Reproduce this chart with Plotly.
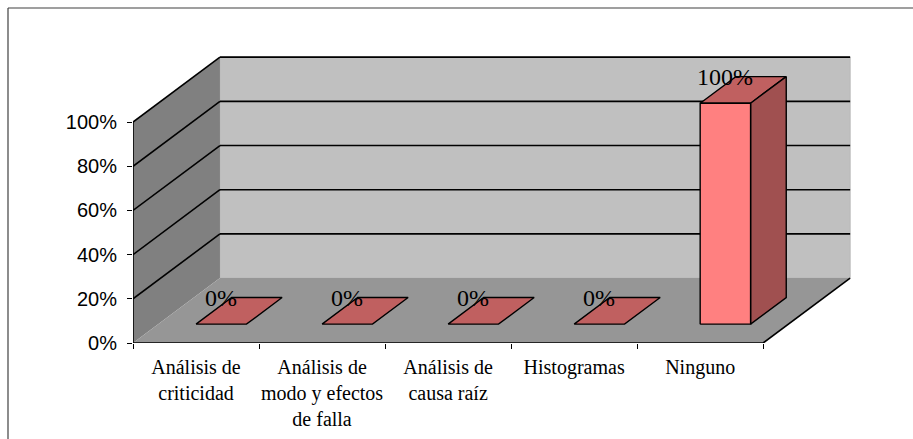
import plotly.graph_objects as go

# ---- data ----
categories = ["Análisis de<br>criticidad", "Análisis de<br>modo y efectos<br>de falla",
              "Análisis de<br>causa raíz", "Histogramas", "Ninguno"]
values = [0, 0, 0, 0, 100]
y_ticks = [0, 20, 40, 60, 80, 100]
y_tick_labels = ["0%", "20%", "40%", "60%", "80%", "100%"]

# ---- pseudo-3D geometry (axis units) ----
W, H = 913, 439
L, R, T, B = 133, 49, 47, 96
DX, DY = 0.69, 29.4          # full depth offset (category units, percent units)
F0, F1 = 0.29, 0.70          # bar front/back depth fractions
HW = 0.2                     # bar half width
n = len(categories)
x0, x1 = -0.5, n - 0.5
ymax = y_ticks[-1]

SERIF = "Liberation Serif, Times New Roman, serif"
SANS = "Liberation Sans, Arial, sans-serif"

WALL_BACK = "#C0C0C0"
WALL_SIDE = "#808080"
FLOOR = "#969696"
BAR_FRONT = "#FF8080"
BAR_TOP = "#C06060"
BAR_SIDE = "#A05050"

fig = go.Figure()
shapes = []

def poly(pts, fill, line_color=None, width=0, layer="below"):
    d = "M " + " L ".join(f"{x},{y}" for x, y in pts) + " Z"
    return dict(type="path", path=d, xref="x", yref="y", fillcolor=fill,
                line=dict(color=line_color or fill, width=width), layer=layer)

def seg(xa, ya, xb, yb, color="black", width=1.6, layer="below"):
    return dict(type="line", xref="x", yref="y", x0=xa, y0=ya, x1=xb, y1=yb,
                line=dict(color=color, width=width), layer=layer)

# back wall
shapes.append(poly([(x0 + DX, DY), (x1 + DX, DY), (x1 + DX, ymax + DY), (x0 + DX, ymax + DY)],
                   WALL_BACK, "#B8B8B8", 1))
# side wall
shapes.append(poly([(x0, 0), (x0 + DX, DY), (x0 + DX, ymax + DY), (x0, ymax)], WALL_SIDE))
# floor
shapes.append(poly([(x0, 0), (x1, 0), (x1 + DX, DY), (x0 + DX, DY)], FLOOR))
# floor right edge
shapes.append(seg(x1, 0, x1 + DX, DY))
# gridlines on walls
for g in y_ticks[1:]:
    shapes.append(seg(x0, g, x0 + DX, g + DY))
    shapes.append(seg(x0 + DX, g + DY, x1 + DX, g + DY))
# axis lines
shapes.append(seg(x0, 0, x0, ymax, width=1.6))
shapes.append(seg(x0, 0, x1, 0, width=1.6))

# bars (faces as filled traces)
def face(pts, color):
    xs = [p[0] for p in pts] + [pts[0][0]]
    ys = [p[1] for p in pts] + [pts[0][1]]
    fig.add_trace(go.Scatter(x=xs, y=ys, mode="lines", fill="toself", fillcolor=color,
                             line=dict(color="black", width=1.4), hoverinfo="skip",
                             showlegend=False))

annotations = []
for i, v in enumerate(values):
    fx, fy = DX * F0, DY * F0
    bx, by = DX * F1, DY * F1
    xl, xr = i - HW + fx, i + HW + fx
    xlb, xrb = i - HW + bx, i + HW + bx
    face([(xl, v + fy), (xr, v + fy), (xrb, v + by), (xlb, v + by)], BAR_TOP)
    if v > 0:
        face([(xr, fy), (xrb, by), (xrb, v + by), (xr, v + fy)], BAR_SIDE)
        face([(xl, fy), (xr, fy), (xr, v + fy), (xl, v + fy)], BAR_FRONT)
    annotations.append(dict(x=i + fx, y=v + by, xref="x", yref="y", text=f"{v}%",
                            showarrow=False, yanchor="middle", xanchor="center",
                            font=dict(family=SERIF, size=24, color="black")))

# invisible trace to carry the category label axis
fig.add_trace(go.Scatter(x=list(range(n)), y=[0] * n, xaxis="x2", mode="markers",
                         marker=dict(opacity=0), hoverinfo="skip", showlegend=False))

# outer frame (left & top edges)
pw = W - L - R
ph = H - T - B
def px_x(p): return (p - L) / pw
def px_y(p): return (H - B - p) / ph
shapes.append(dict(type="line", xref="paper", yref="paper", x0=px_x(8), y0=px_y(8),
                   x1=px_x(8), y1=px_y(H + 5), line=dict(color="#404040", width=1.2), layer="above"))
shapes.append(dict(type="line", xref="paper", yref="paper", x0=px_x(8), y0=px_y(8),
                   x1=px_x(W + 5), y1=px_y(8), line=dict(color="#404040", width=1.2), layer="above"))

xrange = [x0, 5.3]
yrange = [0, 134]
fig.update_layout(
    width=W, height=H,
    margin=dict(l=L, r=R, t=T, b=B, autoexpand=False),
    paper_bgcolor="white", plot_bgcolor="white",
    font=dict(family=SERIF, size=20, color="black"),
    showlegend=False,
    shapes=shapes, annotations=annotations,
    xaxis=dict(range=xrange, tickmode="array", tickvals=[k - 0.5 for k in range(n + 1)],
               showticklabels=False, ticks="outside", ticklen=5, tickcolor="black",
               tickwidth=1.4, showgrid=False, zeroline=False, showline=False,
               automargin=False, fixedrange=True),
    xaxis2=dict(range=xrange, overlaying="x", anchor="y", side="bottom", tickmode="array",
                tickvals=list(range(n)), ticktext=categories, ticks="", showgrid=False,
                zeroline=False, showline=False, ticklabelstandoff=10, automargin=False,
                tickfont=dict(family=SERIF, size=20, color="black")),
    yaxis=dict(range=yrange, tickmode="array", tickvals=y_ticks, ticktext=y_tick_labels,
               ticks="outside", ticklen=5, tickcolor="black", tickwidth=1.4,
               showgrid=False, zeroline=False, showline=False, automargin=False,
               ticklabelstandoff=6,
               tickfont=dict(family=SANS, size=20, color="black")),
)

fig.write_html("out.html")
